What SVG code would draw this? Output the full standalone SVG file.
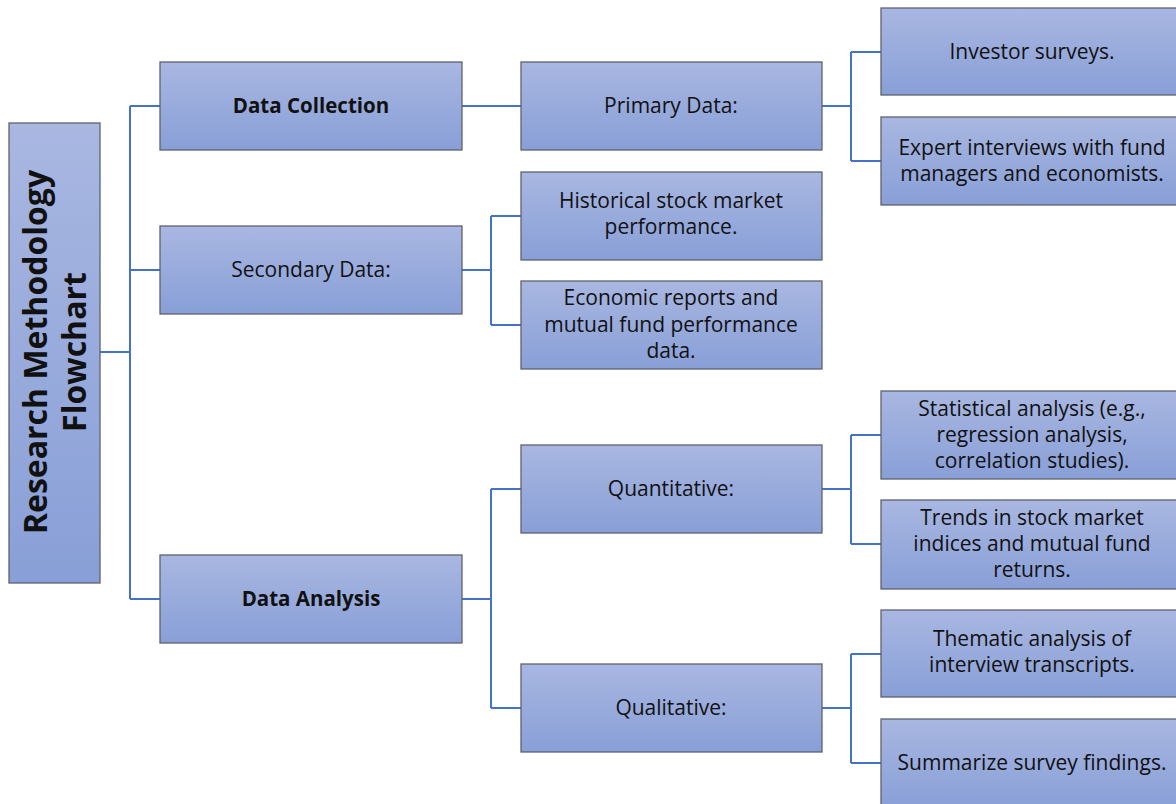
<svg xmlns="http://www.w3.org/2000/svg" width="1176" height="804" viewBox="0 0 1176 804">
<defs>
<linearGradient id="g" x1="0" y1="0" x2="0" y2="1">
<stop offset="0" stop-color="#a9b7e1"/>
<stop offset="1" stop-color="#889fd7"/>
</linearGradient>
</defs>
<style>
.box{fill:url(#g);stroke:#5f6170;stroke-width:1.3}
.t{font-family:"Open Sans","Liberation Sans",Arial,sans-serif;font-size:21px;fill:#111;text-anchor:middle}
.b{font-weight:bold;font-size:20.5px}
.root{font-family:"Open Sans","Liberation Sans",Arial,sans-serif;font-size:32px;font-weight:bold;fill:#111;text-anchor:middle}
.c{fill:none;stroke:#4472c4;stroke-width:2}
</style>
<rect width="1176" height="804" fill="#fff"/>
<g id="connectors">
<path class="c" d="M100,352H130M130,106V599M130,106H160M130,270H160M130,599H160"/>
<path class="c" d="M462,106H521"/>
<path class="c" d="M462,270H491M491,216V325M491,216H521M491,325H521"/>
<path class="c" d="M462,599H491M491,489V708M491,489H521M491,708H521"/>
<path class="c" d="M822,106H851M851,52V161M851,52H881M851,161H881"/>
<path class="c" d="M822,489H851M851,435V544M851,435H881M851,544H881"/>
<path class="c" d="M822,708H851M851,654V763M851,654H881M851,763H881"/>
</g>
<g id="root">
<rect class="box" x="9" y="123" width="91" height="460"/>
<text class="root" transform="translate(54.5,352) rotate(-90)"><tspan x="0" y="-8">Research Methodology</tspan><tspan x="0" y="31">Flowchart</tspan></text>
</g>
<g id="data-collection">
<rect class="box" x="160" y="62" width="302" height="88"/>
<text class="t b" x="311" y="113">Data Collection</text>
</g>
<g id="secondary-data">
<rect class="box" x="160" y="226" width="302" height="88"/>
<text class="t" x="311" y="277">Secondary Data:</text>
</g>
<g id="data-analysis">
<rect class="box" x="160" y="555" width="302" height="88"/>
<text class="t b" x="311" y="606">Data Analysis</text>
</g>
<g id="primary-data">
<rect class="box" x="521" y="62" width="301" height="88"/>
<text class="t" x="671" y="113">Primary Data:</text>
</g>
<g id="historical">
<rect class="box" x="521" y="172" width="301" height="88"/>
<text class="t" x="671" y="208">Historical stock market</text>
<text class="t" x="671" y="234">performance.</text>
</g>
<g id="economic">
<rect class="box" x="521" y="281" width="301" height="88"/>
<text class="t" x="671" y="305">Economic reports and</text>
<text class="t" x="671" y="332">mutual fund performance</text>
<text class="t" x="671" y="358">data.</text>
</g>
<g id="quantitative">
<rect class="box" x="521" y="445" width="301" height="88"/>
<text class="t" x="671" y="496">Quantitative:</text>
</g>
<g id="qualitative">
<rect class="box" x="521" y="664" width="301" height="88"/>
<text class="t" x="671" y="715">Qualitative:</text>
</g>
<g id="investor-surveys">
<rect class="box" x="881" y="8" width="302" height="87"/>
<text class="t" x="1032" y="59">Investor surveys.</text>
</g>
<g id="expert-interviews">
<rect class="box" x="881" y="117" width="302" height="88"/>
<text class="t" x="1032" y="155">Expert interviews with fund</text>
<text class="t" x="1032" y="181">managers and economists.</text>
</g>
<g id="statistical">
<rect class="box" x="881" y="391" width="302" height="88"/>
<text class="t" x="1032" y="416">Statistical analysis (e.g.,</text>
<text class="t" x="1032" y="442">regression analysis,</text>
<text class="t" x="1032" y="468">correlation studies).</text>
</g>
<g id="trends">
<rect class="box" x="881" y="500" width="302" height="89"/>
<text class="t" x="1032" y="525">Trends in stock market</text>
<text class="t" x="1032" y="551">indices and mutual fund</text>
<text class="t" x="1032" y="577">returns.</text>
</g>
<g id="thematic">
<rect class="box" x="881" y="610" width="302" height="87"/>
<text class="t" x="1032" y="646">Thematic analysis of</text>
<text class="t" x="1032" y="672">interview transcripts.</text>
</g>
<g id="summarize">
<rect class="box" x="881" y="719" width="302" height="90"/>
<text class="t" x="1032" y="770">Summarize survey findings.</text>
</g>
</svg>
